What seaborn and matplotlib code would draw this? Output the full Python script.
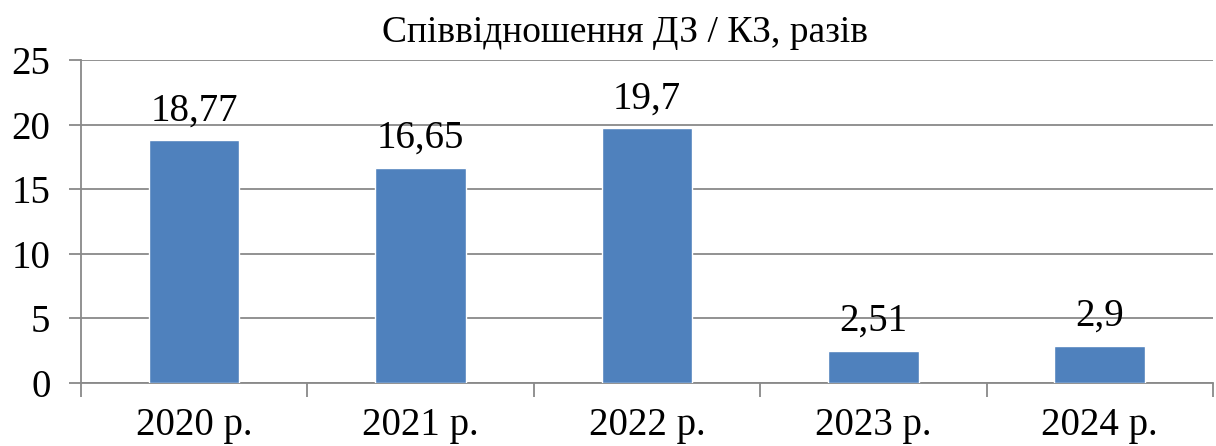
import numpy as np
import pandas as pd
import matplotlib.pyplot as plt
import seaborn as sns

# Дані графіка
years = ["2020 р.", "2021 р.", "2022 р.", "2023 р.", "2024 р."]
ratio = [18.77, 16.65, 19.7, 2.51, 2.9]
ratio_labels = ["18,77", "16,65", "19,7", "2,51", "2,9"]

df = pd.DataFrame({"year": years, "ratio": ratio})

sns.set_style("white")
plt.rcParams["font.family"] = ["Liberation Serif", "DejaVu Serif"]
plt.rcParams["text.color"] = "black"
plt.rcParams["xtick.labelcolor"] = "black"
plt.rcParams["ytick.labelcolor"] = "black"

fig = plt.figure(figsize=(12.16, 4.46), dpi=100)
ax = fig.add_axes([0.0666, 0.1413, 0.9309, 0.7242])

sns.barplot(data=df, x="year", y="ratio", color="#4F81BD", width=0.4,
            saturation=1, ax=ax, zorder=3)

# Підписи значень над стовпцями
for i, (v, lab) in enumerate(zip(ratio, ratio_labels)):
    ax.text(i, v + 2.3, lab, ha="center", va="center", fontsize=28, color="black")

ax.set_ylim(0, 25)
ax.set_xlim(-0.5, len(years) - 0.5)
ax.set_yticks(np.arange(0, 26, 5))
ax.yaxis.grid(True, color="#898989", linewidth=1.3, zorder=0)
ax.set_xlabel("")
ax.set_ylabel("")
ax.set_title("Співвідношення ДЗ / КЗ, разів", fontsize=27, pad=13, x=0.481,
             color="black")

# Засічки по межах категорій
ax.set_xticks(np.arange(-0.5, len(years)), minor=False)
ax.set_xticklabels([])
ax.set_xticks(np.arange(len(years)), minor=True)
ax.set_xticklabels(years, minor=True)
ax.tick_params(axis="x", which="major", direction="out", length=10, width=1.3,
               color="#898989", bottom=True)
ax.tick_params(axis="x", which="minor", length=0, labelsize=28, pad=17,
               labelcolor="black")
ax.tick_params(axis="y", direction="out", length=9, width=1.3, color="#898989",
               left=True, labelsize=28, pad=13, labelcolor="black")

for s in ["top", "right"]:
    ax.spines[s].set_visible(False)
for s in ["left", "bottom"]:
    ax.spines[s].set_color("#898989")
    ax.spines[s].set_linewidth(1.3)

plt.savefig("out.png", dpi=100)
